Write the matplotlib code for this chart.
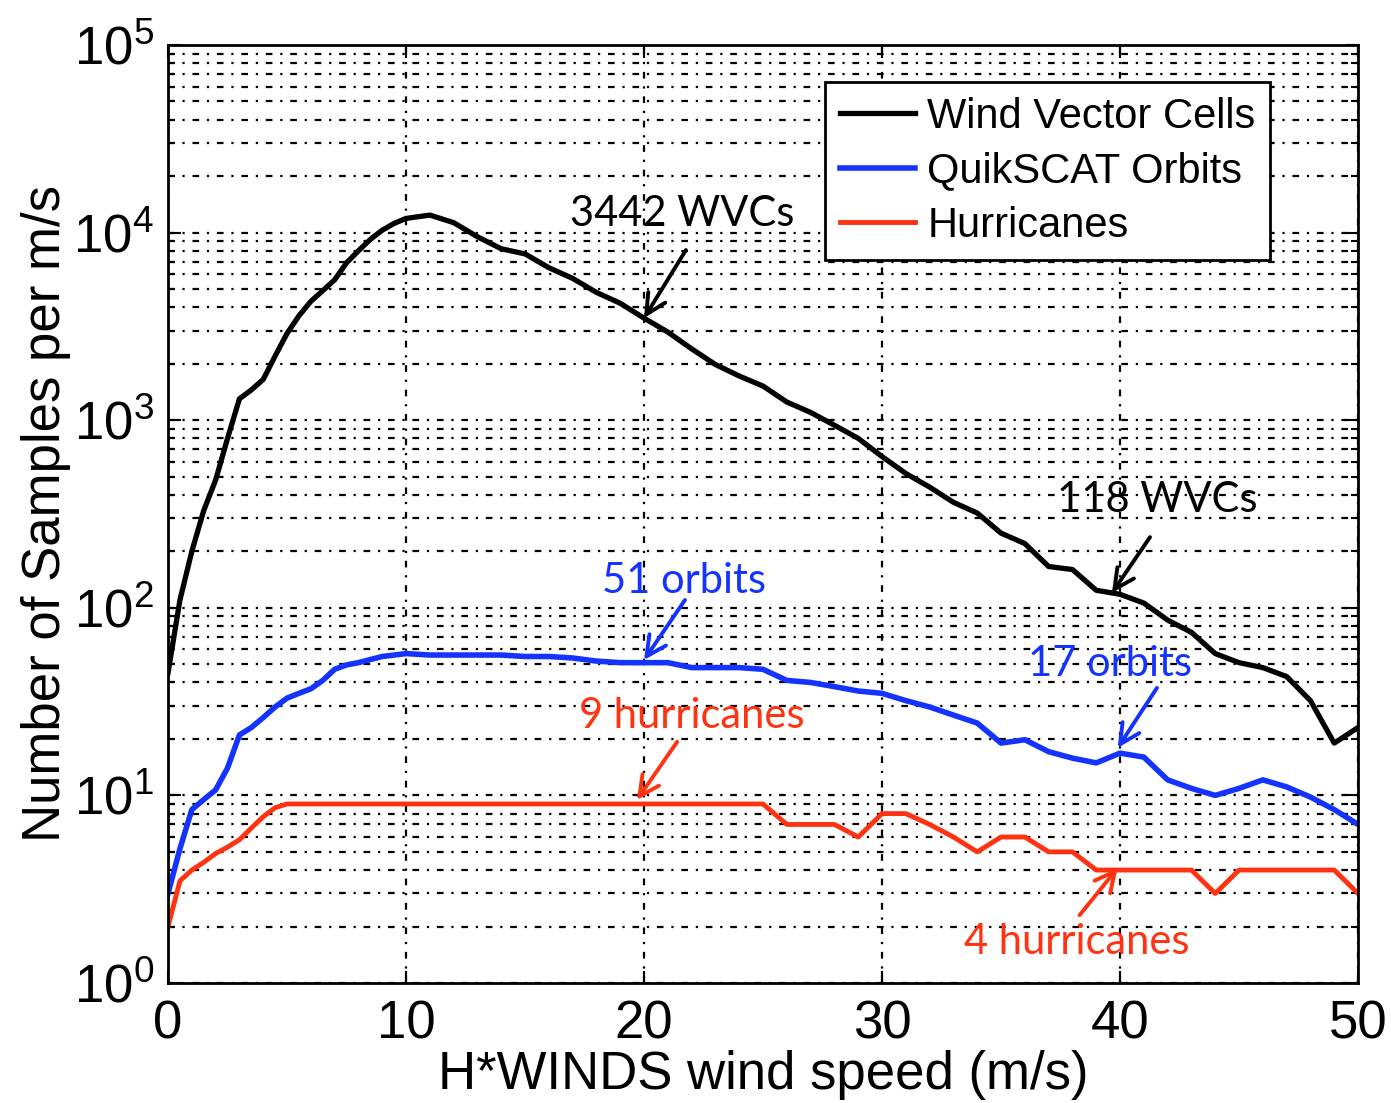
import matplotlib
matplotlib.use('Agg')
import matplotlib.pyplot as plt
import numpy as np

plt.rcParams['font.family'] = ['Liberation Sans', 'DejaVu Sans']
plt.rcParams['mathtext.fontset'] = 'custom'
plt.rcParams['mathtext.rm'] = 'Liberation Sans'
plt.rcParams['mathtext.it'] = 'Liberation Sans'

# wind speed bins (m/s)
speed = [0, 0.5, 1, 1.5, 2, 2.5, 3, 3.5, 4, 4.5, 5, 5.5, 6, 6.5, 7, 7.5, 8, 8.5, 9, 9.5, 10,
         11, 12, 13, 14, 15, 16, 17, 18, 19, 20, 21, 22, 23, 24, 25, 26, 27, 28, 29, 30,
         31, 32, 33, 34, 35, 36, 37, 38, 39, 40, 41, 42, 43, 44, 45, 46, 47, 48, 49, 50]

wvc = [45, 110, 200, 330, 480, 800, 1300, 1450, 1650, 2200, 2900, 3600, 4300, 4900, 5600, 6900, 8000, 9200, 10300, 11200, 11900,
       12400, 11300, 9500, 8200, 7700, 6500, 5700, 4800, 4200, 3500, 2950, 2400, 1980, 1720, 1520, 1250, 1100, 940, 800, 640,
       520, 440, 365, 320, 250, 220, 166, 160, 124, 118, 106, 86, 74, 57, 51, 48, 43, 32, 19, 23]

orbits = [3.0, 5.2, 8.4, 9.5, 10.7, 14, 21, 23, 26, 29.6, 33, 35, 37, 41, 47, 49.6, 51, 53, 55, 56, 57,
          56, 56, 56, 56, 55, 55, 54, 52, 51, 51, 51, 48, 48, 48, 47, 41, 40, 38, 36, 35,
          32, 29.6, 26.8, 24.3, 19, 19.8, 17.1, 15.8, 14.9, 16.8, 16, 12.1, 10.9, 10, 10.9, 12.1, 11.1, 9.8, 8.4, 7.0]

hurricanes = [2, 3.5, 4, 4.4, 4.9, 5.3, 5.8, 6.7, 7.7, 8.6, 9, 9, 9, 9, 9, 9, 9, 9, 9, 9, 9,
              9, 9, 9, 9, 9, 9, 9, 9, 9, 9, 9, 9, 9, 9, 9, 7, 7, 7, 6, 8,
              8, 7, 6, 5, 6, 6, 5, 5, 4, 4, 4, 4, 4, 3, 4, 4, 4, 4, 4, 3]

series_labels = ['Wind Vector Cells', 'QuikSCAT Orbits', 'Hurricanes']
blue = '#1433ff'
red = '#ff3311'

fig = plt.figure(figsize=(13.91, 11.03), dpi=100)
ax = fig.add_axes([0.1208, 0.1088, 0.8555, 0.8504])

ax.plot(speed, wvc, color='black', lw=3.8, label=series_labels[0])
ax.plot(speed, orbits, color=blue, lw=4, label=series_labels[1])
ax.plot(speed, hurricanes, color=red, lw=3.5, label=series_labels[2])

ax.set_yscale('log')
ax.set_xlim(0, 50)
ax.set_ylim(1, 1e5)
ax.set_xticks([0, 10, 20, 30, 40, 50])

# matlab style dotted grid
grid_style = dict(color='black', linestyle=(0, (3, 3.5, 1, 3.5)), linewidth=1.6)
ax.grid(True, which='major', axis='both', **grid_style)
ax.grid(True, which='minor', axis='y', **grid_style)
ax.set_axisbelow(True)

ax.tick_params(which='both', direction='in', top=True, right=True, labelsize=38, width=1.5)
ax.tick_params(which='major', length=9)
ax.tick_params(which='minor', length=5)
ax.tick_params(axis='x', pad=12)
ax.tick_params(axis='y', pad=10)
for sp in ax.spines.values():
    sp.set_linewidth(2)

ax.set_xlabel('H*WINDS wind speed (m/s)', fontsize=38, labelpad=0)
ax.set_ylabel('Number of Samples per m/s', fontsize=38, labelpad=2)

leg = ax.legend(loc='upper right', bbox_to_anchor=(0.926, 0.9606), borderaxespad=0,
                fontsize=30, fancybox=False, framealpha=1, edgecolor='black',
                handlelength=1.8, handletextpad=0.3, labelspacing=0.35, borderpad=0.35)
leg.get_frame().set_linewidth(2)

# annotations
ann_font = ['Lato', 'DejaVu Sans']
arrow = dict(arrowstyle='->', lw=2.8, mutation_scale=36, shrinkA=0, shrinkB=0)

def note(text, pos, start, end, color):
    ax.text(pos[0], pos[1], text, color=color, fontsize=30, family=ann_font,
            ha='center', va='center')
    ax.annotate('', xy=end, xytext=start, arrowprops=dict(arrow, color=color))

note('3442 WVCs', (21.6, 12500), (21.76, 8070), (20.0, 3500), 'black')
note('118 WVCs', (41.55, 376), (41.26, 238), (39.66, 120), 'black')
note('51 orbits', (21.68, 139), (21.72, 110), (20.0, 52.7), blue)
note('17 orbits', (39.58, 50), (41.55, 37.4), (39.9, 17.9), blue)
note('9 hurricanes', (22.0, 26.5), (21.39, 19.3), (19.7, 9.45), red)
note('4 hurricanes', (38.2, 1.65), (38.3, 2.3), (39.9, 4.1), red)

plt.savefig('out.png', dpi=100)
